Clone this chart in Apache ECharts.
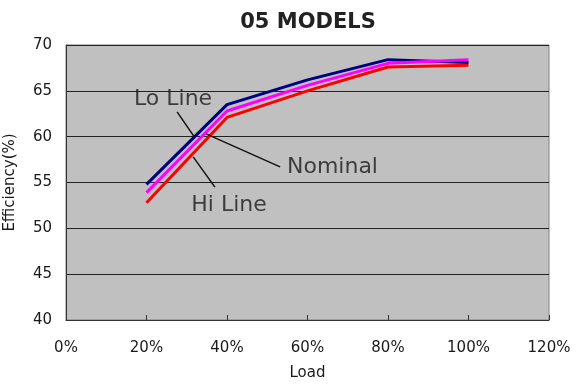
<!DOCTYPE html>
<html>
<head>
<meta charset="utf-8">
<script src="https://cdn.jsdelivr.net/npm/echarts@6/dist/echarts.min.js"></script>
<style>
  html, body { margin: 0; padding: 0; background: #fff; }
  #chart { width: 576px; height: 390px; }
</style>
</head>
<body>
<div id="chart"></div>
<script>
// Load (%) on the x axis, efficiency (%) on the y axis
const loads = [20, 40, 60, 80, 100];
const loLine = [54.8, 63.5, 66.2, 68.4, 68.1];
const nominal = [53.9, 62.8, 65.6, 68.0, 68.4];
const hiLine = [52.8, 62.1, 65.0, 67.6, 67.8];

// Callout labels: text anchor and leader line ends, in data units [load, efficiency]
const callouts = [
  { text: 'Lo Line', at: [26.6, 64.05], from: [27.6, 62.7], to: [32.0, 59.9], align: 'center' },
  { text: 'Nominal', at: [54.9, 56.7], from: [34.8, 60.3], to: [53.2, 56.7], align: 'left' },
  { text: 'Hi Line', at: [40.5, 52.5], from: [31.6, 57.8], to: [37.0, 54.5], align: 'center' }
];

const pair = (xs, ys) => xs.map((x, i) => [x, ys[i]]);

const chart = echarts.init(document.getElementById('chart'));

const FONT = 'DejaVu Sans';

const lineSeries = (name, data, color, z) => ({
  name, type: 'line', data, z,
  symbol: 'none',
  lineStyle: { color, width: 3 },
  itemStyle: { color },
  animation: false
});

chart.setOption({
  backgroundColor: '#ffffff',
  animation: false,
  title: {
    text: '05 MODELS',
    left: 303, top: 7, textAlign: 'center',
    textStyle: { fontFamily: FONT, fontWeight: 'bold', fontSize: 21, color: '#222' }
  },
  grid: {
    left: 66, right: 27, top: 45, bottom: 70,
    containLabel: false, outerBoundsMode: 'none',
    show: true, backgroundColor: '#c0c0c0', borderColor: '#808080', borderWidth: 1
  },
  xAxis: {
    type: 'value', min: 0, max: 120, interval: 20,
    name: 'Load', nameLocation: 'middle', nameGap: 46,
    nameTextStyle: { fontFamily: FONT, fontSize: 15, color: '#1a1a1a' },
    axisLine: { lineStyle: { color: '#333', width: 1 } },
    axisTick: { show: true, inside: true, length: 5, lineStyle: { color: '#333' } },
    axisLabel: { formatter: '{value}%', fontFamily: FONT, fontSize: 15, color: '#1a1a1a', margin: 21 },
    splitLine: { show: false }
  },
  yAxis: {
    type: 'value', min: 40, max: 70, interval: 5,
    name: 'Efficiency(%)', nameLocation: 'middle', nameGap: 48, nameRotate: 90,
    nameTextStyle: { fontFamily: FONT, fontSize: 15, color: '#1a1a1a' },
    axisLine: { show: true, lineStyle: { color: '#333', width: 1 } },
    axisTick: { show: false },
    axisLabel: { fontFamily: FONT, fontSize: 15, color: '#1a1a1a', margin: 14 },
    splitLine: { lineStyle: { color: '#222', width: 1 } }
  },
  series: [
    lineSeries('Lo Line', pair(loads, loLine), '#000080', 2),
    lineSeries('Hi Line', pair(loads, hiLine), '#ff0000', 3),
    Object.assign(lineSeries('Nominal', pair(loads, nominal), '#ff00ff', 4), {
      markLine: {
        silent: true, symbol: 'none', animation: false,
        lineStyle: { color: '#111', width: 1.5, type: 'solid' },
        label: { show: false },
        data: callouts.map(c => [{ coord: c.from }, { coord: c.to }])
      }
    }),
    {
      type: 'scatter', symbolSize: 0, z: 6, silent: true,
      data: callouts.map(c => ({
        value: c.at,
        label: {
          show: true, position: 'inside', formatter: c.text,
          align: c.align, verticalAlign: 'middle',
          fontFamily: FONT, fontSize: 22, color: '#1a1a1a'
        }
      }))
    }
  ]
});
</script>
</body>
</html>
